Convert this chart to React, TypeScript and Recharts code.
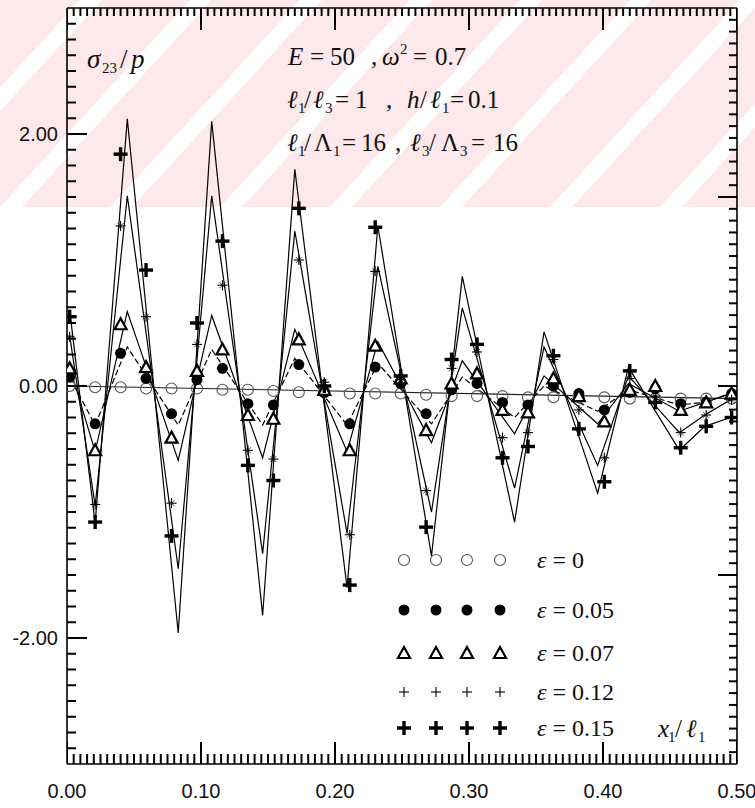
import React from 'react';
import { ComposedChart, Line, Scatter, XAxis, YAxis } from 'recharts';

// abscissae of the plotted symbols (x1/l1)
const markerX = [0.002, 0.021, 0.040, 0.059, 0.078, 0.097, 0.116, 0.135, 0.154, 0.173, 0.192, 0.211, 0.230, 0.249,
  0.268, 0.287, 0.306, 0.325, 0.344, 0.363, 0.382, 0.401, 0.420, 0.439, 0.458, 0.477, 0.496];

// symbols, one list per epsilon
const eps0Marks = [0, -0.01, -0.01, -0.02, -0.02, -0.02, -0.03, -0.03, -0.04, -0.05, -0.05, -0.06, -0.06, -0.06,
  -0.07, -0.08, -0.08, -0.08, -0.09, -0.09, -0.09, -0.09, -0.1, -0.1, -0.1, -0.1, -0.1];
const eps05Marks = [0.07, -0.3, 0.26, 0.06, -0.22, 0.05, 0.14, -0.14, -0.15, 0.17, -0.05, -0.3, 0.15, 0.02,
  -0.22, -0.03, 0.02, -0.13, -0.15, 0.0, -0.06, -0.19, -0.05, -0.02, -0.14, -0.13, -0.06];
const eps07Marks = [0.14, -0.51, 0.49, 0.15, -0.41, 0.12, 0.29, -0.23, -0.26, 0.37, -0.03, -0.51, 0.32, 0.06,
  -0.35, 0.02, 0.1, -0.19, -0.21, 0.06, -0.08, -0.28, -0.03, 0.0, -0.19, -0.13, -0.06];
const eps12Marks = [0.39, -0.94, 1.27, 0.55, -0.93, 0.33, 0.8, -0.51, -0.58, 1.0, 0.03, -1.18, 0.91, 0.05,
  -0.83, 0.14, 0.27, -0.41, -0.37, 0.21, -0.19, -0.57, 0.06, -0.08, -0.37, -0.23, -0.11];
const eps15Marks = [0.55, -1.08, 1.84, 0.92, -1.19, 0.5, 1.15, -0.63, -0.75, 1.41, 0.0, -1.58, 1.26, 0.08,
  -1.12, 0.21, 0.33, -0.57, -0.48, 0.24, -0.34, -0.76, 0.12, -0.13, -0.49, -0.32, -0.25];

// vertices of the drawn curves (peaks and troughs)
const lineX = [0.002, 0.021, 0.045, 0.083, 0.108, 0.146, 0.170, 0.209, 0.232, 0.272, 0.295, 0.334, 0.356,
  0.396, 0.419, 0.457, 0.476, 0.495, 0.5];
const eps05Line = [0.07, -0.31, 0.31, -0.31, 0.29, -0.31, 0.22, -0.31, 0.18, -0.3, 0.07, -0.25, 0.0, -0.2,
  -0.03, -0.15, -0.13, -0.06, -0.04];
const eps07Line = [0.15, -0.52, 0.59, -0.59, 0.56, -0.57, 0.45, -0.52, 0.35, -0.45, 0.2, -0.38, 0.08, -0.3,
  0.02, -0.2, -0.13, -0.06, -0.05];
const eps12Line = [0.4, -0.95, 1.51, -1.45, 1.51, -1.33, 1.23, -1.17, 0.95, -1.0, 0.62, -0.81, 0.31, -0.63,
  0.08, -0.37, -0.23, -0.11, -0.1];
const eps15Line = [0.6, -1.09, 2.12, -1.96, 2.1, -1.82, 1.72, -1.6, 1.27, -1.35, 0.87, -1.08, 0.43, -0.85,
  0.15, -0.51, -0.32, -0.25, -0.25];
const eps0LineX = [0.002, 0.5];
const eps0Line = [0.0, -0.1];

const legendLabels = ['0', '0.05', '0.07', '0.12', '0.15'];
const xLabelTicks = [0, 0.1, 0.2, 0.3, 0.4, 0.5];
const yLabelTicks = [-2, 0, 2];

const xTicks = Array.from({ length: 101 }, (_, k) => k * 0.005);
const yLeftTicks = Array.from({ length: 47 }, (_, k) => (k - 23) * 0.125);
const yRightTicks = Array.from({ length: 63 }, (_, k) => (k - 31) * 0.09375);

const pts = (xs: number[], ys: number[]) => xs.map((x, i) => ({ x, y: ys[i] }));
const near = (v: number, step: number) => Math.abs(v / step - Math.round(v / step)) < 1e-6;

// inward tick marks, placed through the chart scales
const bottomTickPts = xTicks.map((x) => ({ x, y: -3, len: near(x, 0.1) ? 22 : 10 }));
const topTickPts = xTicks.map((x) => ({ x, y: 3, len: near(x, 0.1) ? 22 : 8 }));
const leftTickPts = yLeftTicks.map((y) => ({ x: 0, y, len: near(y, 2) ? 20 : 9 }));
const rightTickPts = yRightTicks.map((y) => ({ x: 0.5, y, len: near(y, 1.5) ? 19 : 8 }));

const tickFont = { fontFamily: 'Liberation Sans, Arial, sans-serif', fontSize: 20, fill: '#111' };
const serif = 'Liberation Serif, Times New Roman, serif';

const BottomLabel = (p: any) => (
  <text x={p.x} y={p.y + 34} textAnchor="middle" {...tickFont}>{p.payload.value.toFixed(2)}</text>
);
const LeftLabel = (p: any) => (
  <text x={p.x - 9} y={p.y + 7} textAnchor="end" {...tickFont}>{p.payload.value.toFixed(2)}</text>
);

const tickShape = (dx: number, dy: number) => (p: any) => {
  const len = (p.payload && p.payload.len) || 10;
  return <path d={`M${p.cx},${p.cy}L${p.cx + dx * len},${p.cy + dy * len}`} stroke="#000" strokeWidth={2} fill="none" />;
};

const OpenCircle = ({ cx, cy }: any) => <circle cx={cx} cy={cy} r={5.5} fill="none" stroke="#555" strokeWidth={1.1} />;
const Dot = ({ cx, cy }: any) => <circle cx={cx} cy={cy} r={5.5} fill="#000" />;
const Tri = ({ cx, cy }: any) => (
  <polygon points={`${cx},${cy - 6} ${cx - 6},${cy + 5} ${cx + 6},${cy + 5}`} fill="#fff" stroke="#000" strokeWidth={2.2} />
);
const Thin = ({ cx, cy }: any) => (
  <g stroke="#000" strokeWidth={1.1}>
    <line x1={cx - 5} y1={cy} x2={cx + 5} y2={cy} />
    <line x1={cx} y1={cy - 5} x2={cx} y2={cy + 5} />
    <line x1={cx - 3} y1={cy - 3} x2={cx + 3} y2={cy + 3} strokeWidth={0.7} />
    <line x1={cx - 3} y1={cy + 3} x2={cx + 3} y2={cy - 3} strokeWidth={0.7} />
  </g>
);
const ThinPlus = ({ cx, cy }: any) => (
  <g stroke="#000" strokeWidth={1.1}>
    <line x1={cx - 5} y1={cy} x2={cx + 5} y2={cy} />
    <line x1={cx} y1={cy - 5} x2={cx} y2={cy + 5} />
  </g>
);
const Bold = ({ cx, cy }: any) => (
  <g stroke="#000" strokeWidth={3.4}>
    <line x1={cx - 7} y1={cy} x2={cx + 7} y2={cy} />
    <line x1={cx} y1={cy - 7} x2={cx} y2={cy + 7} />
  </g>
);

const shapes = [OpenCircle, Dot, Tri, Thin, Bold];
const legendShapes = [OpenCircle, Dot, Tri, ThinPlus, Bold];

const LegendBox = () => {
  const rowY = [20, 70, 113, 152, 188];
  const symX = [14, 46, 77, 110];
  return (
    <svg width={270} height={210} style={{ position: 'absolute', left: 390, top: 540, overflow: 'visible' }}>
      {legendLabels.map((lab, r) => {
        const S = legendShapes[r];
        return (
          <g key={lab}>
            {symX.map((sx) => <S key={sx} cx={sx} cy={rowY[r]} />)}
            <text x={147} y={rowY[r] + 8} fontFamily={serif} fontSize={24} fill="#111">
              <tspan fontStyle="italic">ε</tspan> = {lab}
            </text>
          </g>
        );
      })}
    </svg>
  );
};

const it = 'italic';
const Annotations = () => (
  <svg width={755} height={808} style={{ position: 'absolute', left: 0, top: 0, pointerEvents: 'none' }}>
    <g fontFamily={serif} fontSize={25} fill="#111">
      <text y={68} fontSize={27}>
        <tspan x={87} fontStyle={it}>σ</tspan>
        <tspan x={102} y={73} fontSize={15}>23</tspan>
        <tspan x={120} y={68}>/</tspan>
        <tspan x={131} fontStyle={it}>p</tspan>
      </text>
      <text y={65}>
        <tspan x={288} fontStyle={it}>E</tspan>
        <tspan x={310}>=</tspan>
        <tspan x={330}>50</tspan>
        <tspan x={371}>,</tspan>
        <tspan x={382} fontStyle={it}>ω</tspan>
        <tspan x={400} y={54} fontSize={15}>2</tspan>
        <tspan x={413} y={65}>=</tspan>
        <tspan x={435}>0.7</tspan>
      </text>
      <text y={108}>
        <tspan x={287} fontStyle={it}>ℓ</tspan>
        <tspan x={298} y={113} fontSize={15}>1</tspan>
        <tspan x={304} y={108}>/</tspan>
        <tspan x={313} fontStyle={it}>ℓ</tspan>
        <tspan x={325} y={113} fontSize={15}>3</tspan>
        <tspan x={335} y={108}>=</tspan>
        <tspan x={355}>1</tspan>
        <tspan x={386}>,</tspan>
        <tspan x={407} fontStyle={it}>h</tspan>
        <tspan x={420}>/</tspan>
        <tspan x={430} fontStyle={it}>ℓ</tspan>
        <tspan x={442} y={113} fontSize={15}>1</tspan>
        <tspan x={450} y={108}>=</tspan>
        <tspan x={468}>0.1</tspan>
      </text>
      <text y={151}>
        <tspan x={287} fontStyle={it}>ℓ</tspan>
        <tspan x={298} y={156} fontSize={15}>1</tspan>
        <tspan x={304} y={151}>/</tspan>
        <tspan x={314}>Λ</tspan>
        <tspan x={333} y={156} fontSize={15}>1</tspan>
        <tspan x={342} y={151}>=</tspan>
        <tspan x={361}>16</tspan>
        <tspan x={395}>,</tspan>
        <tspan x={410} fontStyle={it}>ℓ</tspan>
        <tspan x={422} y={156} fontSize={15}>3</tspan>
        <tspan x={429} y={151}>/</tspan>
        <tspan x={441}>Λ</tspan>
        <tspan x={460} y={156} fontSize={15}>3</tspan>
        <tspan x={471} y={151}>=</tspan>
        <tspan x={493}>16</tspan>
      </text>
      <text y={737}>
        <tspan x={658} fontStyle={it}>x</tspan>
        <tspan x={668} y={742} fontSize={15}>1</tspan>
        <tspan x={675} y={737}>/</tspan>
        <tspan x={686} fontStyle={it}>ℓ</tspan>
        <tspan x={698} y={742} fontSize={15}>1</tspan>
      </text>
    </g>
  </svg>
);

const Watermark = () => {
  const bands = Array.from({ length: 11 }, (_, k) => -220 + k * 110);
  return (
    <svg width={755} height={808} style={{ position: 'absolute', left: 0, top: 0 }}>
      <rect x={0} y={0} width={755} height={207} fill="#fde8ec" />
      {bands.map((b) => (
        <polygon key={b} points={`${b},207 ${b + 22},207 ${b + 22 + 190},0 ${b + 190},0`} fill="#fff" />
      ))}
    </svg>
  );
};

export default function App() {
  const markSets = [eps0Marks, eps05Marks, eps07Marks, eps12Marks, eps15Marks];
  return (
    <div style={{ position: 'absolute', left: 0, top: 0, width: 755, height: 808, background: '#fff' }}>
      <Watermark />
      <div style={{ position: 'absolute', left: 0, top: 0 }}>
        <ComposedChart width={755} height={808} margin={{ top: 7, right: 17, bottom: 43, left: 66 }}>
          <XAxis xAxisId={0} dataKey="x" type="number" domain={[0, 0.5]} ticks={xLabelTicks} interval={0}
            height={1} tickSize={0} tickMargin={0} tick={<BottomLabel />} axisLine={{ stroke: '#000', strokeWidth: 1.6 }}
            tickLine={false} allowDataOverflow />
          <XAxis xAxisId="top" orientation="top" dataKey="x" type="number" domain={[0, 0.5]} ticks={xLabelTicks}
            height={1} tick={false} axisLine={{ stroke: '#000', strokeWidth: 1.6 }} tickLine={false} allowDataOverflow />
          <YAxis yAxisId={0} type="number" domain={[-3, 3]} ticks={yLabelTicks} interval={0} width={1} tickSize={0}
            tickMargin={0} tick={<LeftLabel />} axisLine={{ stroke: '#000', strokeWidth: 1.6 }} tickLine={false}
            allowDataOverflow />
          <YAxis yAxisId="right" orientation="right" type="number" domain={[-3, 3]} ticks={yLabelTicks}
            width={1} tick={false} axisLine={{ stroke: '#000', strokeWidth: 1.6 }} tickLine={false} allowDataOverflow />

          <Scatter data={bottomTickPts} dataKey="y" shape={tickShape(0, -1)} isAnimationActive={false} legendType="none" />
          <Scatter data={topTickPts} dataKey="y" shape={tickShape(0, 1)} isAnimationActive={false} legendType="none" />
          <Scatter data={leftTickPts} dataKey="y" shape={tickShape(1, 0)} isAnimationActive={false} legendType="none" />
          <Scatter data={rightTickPts} dataKey="y" shape={tickShape(-1, 0)} isAnimationActive={false} legendType="none" />

          <Line data={pts(eps0LineX, eps0Line)} dataKey="y" type="linear" stroke="#222" strokeWidth={1.2}
            dot={false} isAnimationActive={false} legendType="none" />
          <Line data={pts(lineX, eps05Line)} dataKey="y" type="linear" stroke="#000" strokeWidth={1.2}
            strokeDasharray="6 3" dot={false} isAnimationActive={false} legendType="none" />
          <Line data={pts(lineX, eps07Line)} dataKey="y" type="linear" stroke="#000" strokeWidth={1.2}
            dot={false} isAnimationActive={false} legendType="none" />
          <Line data={pts(lineX, eps12Line)} dataKey="y" type="linear" stroke="#000" strokeWidth={1.2}
            dot={false} isAnimationActive={false} legendType="none" />
          <Line data={pts(lineX, eps15Line)} dataKey="y" type="linear" stroke="#000" strokeWidth={1.2}
            dot={false} isAnimationActive={false} legendType="none" />

          {markSets.map((m, k) => {
            const S = shapes[k];
            return (
              <Scatter key={k} data={pts(markerX, m)} dataKey="y" isAnimationActive={false} legendType="none"
                shape={(p: any) => <S cx={p.cx} cy={p.cy} />} />
            );
          })}
        </ComposedChart>
      </div>
      <LegendBox />
      <Annotations />
    </div>
  );
}
